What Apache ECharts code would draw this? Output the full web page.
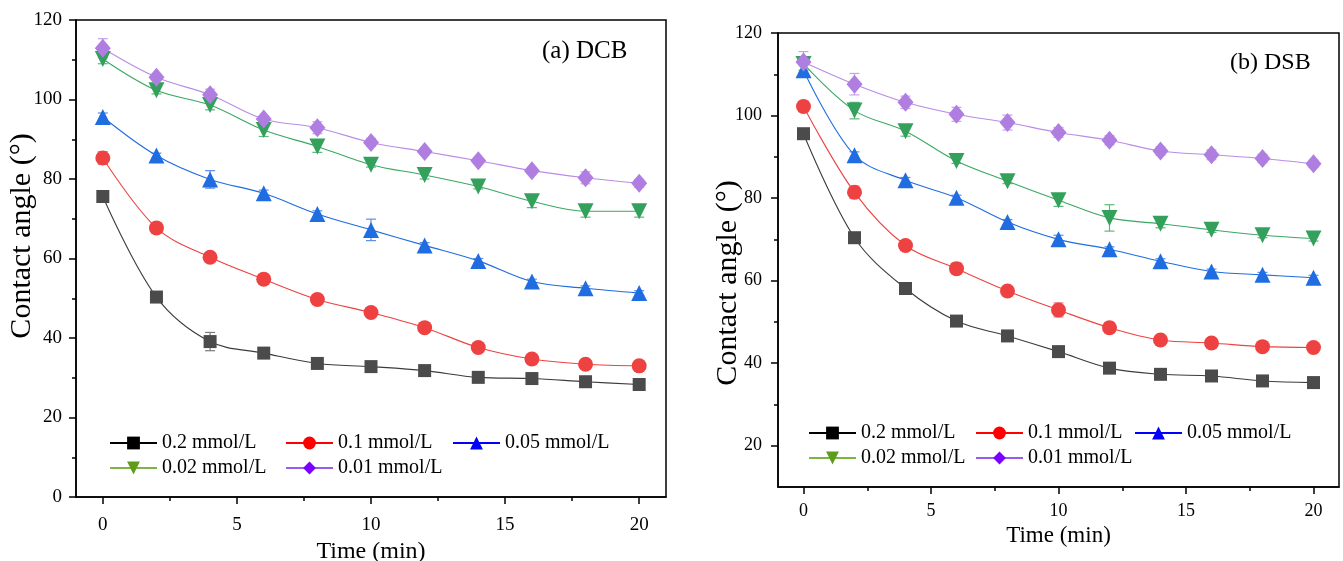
<!DOCTYPE html>
<html>
<head>
<meta charset="utf-8">
<script src="https://cdn.jsdelivr.net/npm/echarts@6/dist/echarts.min.js"></script>
<style>
  html, body { margin: 0; padding: 0; background: #fff; }
  #contact-angle { width: 1343px; height: 561px; }
</style>
</head>
<body>
<div id="contact-angle"></div>
<script>
// sampling times (min)
var times = [0, 2, 4, 6, 8, 10, 12, 14, 16, 18, 20];
var concs = ['0.2 mmol/L', '0.1 mmol/L', '0.05 mmol/L', '0.02 mmol/L', '0.01 mmol/L'];

// (a) DCB contact angle
var dcb02 = [75.6, 50.3, 39.1, 36.2, 33.6, 32.8, 31.8, 30.1, 29.8, 29.0, 28.3];
var dcb01 = [85.3, 67.7, 60.3, 54.8, 49.7, 46.4, 42.6, 37.6, 34.7, 33.4, 33.0];
var dcb005 = [95.6, 85.9, 79.9, 76.4, 71.2, 67.2, 63.3, 59.4, 54.2, 52.5, 51.3];
var dcb002 = [110.2, 102.3, 98.6, 92.3, 88.2, 83.6, 81.0, 78.1, 74.4, 71.9, 71.9];
var dcb001 = [112.9, 105.6, 101.2, 95.1, 92.9, 89.2, 86.9, 84.6, 82.1, 80.3, 78.9];
// error bars (+/-)
var dcbErr02 = [1.0, 1.3, 2.3, 0.6, 0.6, 0.5, 0.6, 0.5, 0.5, 0.6, 0.6];
var dcbErr01 = [1.6, 1.3, 0.7, 0.5, 0.5, 0.6, 0.6, 0.5, 0.5, 0.5, 0.5];
var dcbErr005 = [1.0, 0.6, 2.2, 0.8, 0.8, 2.7, 0.7, 0.6, 0.6, 0.6, 0.6];
var dcbErr002 = [1.2, 0.9, 1.2, 1.6, 1.5, 0.6, 1.0, 0.6, 1.6, 1.5, 1.5];
var dcbErr001 = [2.4, 0.8, 1.4, 0.8, 1.5, 1.0, 0.7, 0.6, 0.8, 1.5, 1.0];

// (b) DSB contact angle
var dsb02 = [95.6, 70.4, 58.1, 50.2, 46.6, 42.8, 38.8, 37.3, 36.9, 35.7, 35.3];
var dsb01 = [102.2, 81.4, 68.5, 62.9, 57.5, 52.9, 48.6, 45.6, 44.9, 44.0, 43.8];
var dsb005 = [111.0, 90.4, 84.3, 80.1, 74.2, 70.0, 67.6, 64.7, 62.2, 61.4, 60.7];
var dsb002 = [112.5, 101.2, 96.2, 89.0, 84.1, 79.5, 75.2, 73.8, 72.3, 71.0, 70.2];
var dsb001 = [113.0, 107.6, 103.2, 100.3, 98.3, 95.9, 94.0, 91.4, 90.5, 89.6, 88.3];
var dsbErr02 = [0.6, 0.6, 0.6, 0.6, 0.6, 0.6, 0.6, 0.6, 0.6, 0.6, 0.6];
var dsbErr01 = [1.3, 1.5, 0.7, 1.4, 0.7, 1.7, 1.3, 0.6, 0.7, 0.6, 0.6];
var dsbErr005 = [1.6, 0.8, 0.7, 0.6, 0.6, 1.0, 0.6, 0.6, 0.6, 0.6, 0.6];
var dsbErr002 = [1.5, 2.0, 1.2, 0.6, 0.6, 1.5, 3.2, 1.0, 0.6, 0.6, 0.6];
var dsbErr001 = [2.5, 2.6, 1.5, 1.7, 1.8, 1.2, 1.1, 1.0, 1.2, 1.0, 0.9];

// tick labels
var xTicks = [0, 5, 10, 15, 20];
var xMinor = [2.5, 7.5, 12.5, 17.5];
var yTicksA = [0, 20, 40, 60, 80, 100, 120];
var yMinorA = [10, 30, 50, 70, 90, 110];
var yTicksB = [20, 40, 60, 80, 100, 120];
var yMinorB = [30, 50, 70, 90, 110];

var font = 'Liberation Serif';
var symbols = ['rect', 'circle', 'triangle', 'triangle', 'diamond'];
var rotates = [0, 0, 0, 180, 0];
var sizes = [13, 15, 16, 16, [16, 19]];
var markColors = ['#4b4b4b', '#ee4242', '#1f6de0', '#33a05c', '#b07ee0'];
var lineColors = ['#3c3c3c', '#ee4242', '#1f6de0', '#3aa862', '#b98ce6'];
var errColors = ['#7a7a7a', '#f07a7a', '#5a90e8', '#5cb87a', '#c6a2ec'];
var legendColors = ['#000000', '#ff0000', '#0000ff', '#5e9c1a', '#7a00ff'];
var legendLineColors = ['#000000', '#ff0000', '#0000ff', '#7db443', '#9a5cf0'];

var chartDom = document.getElementById('contact-angle');
var myChart = echarts.init(chartDom);
var option;

function errorBar(params, api) {
  var x = api.value(0);
  var hi = api.coord([x, api.value(2)]);
  var lo = api.coord([x, api.value(1)]);
  var c = api.visual('color');
  var w = 5;
  var st = { stroke: c, lineWidth: 1.2 };
  return {
    type: 'group',
    children: [
      { type: 'line', shape: { x1: hi[0], y1: hi[1], x2: lo[0], y2: lo[1] }, style: st },
      { type: 'line', shape: { x1: hi[0] - w, y1: hi[1], x2: hi[0] + w, y2: hi[1] }, style: st },
      { type: 'line', shape: { x1: lo[0] - w, y1: lo[1], x2: lo[0] + w, y2: lo[1] }, style: st }
    ]
  };
}

function mainX(grid, labelSize, margin, nameGap, nameSize) {
  return {
    type: 'value', gridIndex: grid, min: -1, max: 21, position: 'bottom',
    name: 'Time (min)', nameLocation: 'middle', nameGap: nameGap,
    nameTextStyle: { fontFamily: font, fontSize: nameSize, color: '#000' },
    axisLine: { onZero: false, lineStyle: { color: '#000', width: 1.5 } },
    axisTick: { customValues: xTicks, length: 7, lineStyle: { width: 1.5, color: '#000' } },
    axisLabel: { customValues: xTicks, margin: margin, fontFamily: font, fontSize: labelSize, color: '#000' },
    splitLine: { show: false }
  };
}

function minorAxis(grid, min, max, ticks, pos) {
  return {
    type: 'value', gridIndex: grid, min: min, max: max, position: pos,
    axisLine: { show: false, onZero: false },
    axisTick: { customValues: ticks, length: 4, lineStyle: { width: 1.5, color: '#000' } },
    axisLabel: { show: false },
    splitLine: { show: false }
  };
}

function mainY(grid, min, max, ticks, labelSize, margin) {
  return {
    type: 'value', gridIndex: grid, min: min, max: max, position: 'left',
    axisLine: { show: true, onZero: false, lineStyle: { color: '#000', width: 1.5 } },
    axisTick: { show: true, customValues: ticks, length: 7, lineStyle: { width: 1.5, color: '#000' } },
    axisLabel: { customValues: ticks, margin: margin, fontFamily: font, fontSize: labelSize, color: '#000' },
    splitLine: { show: false }
  };
}

var panels = [
  { axis: 0, tag: 'DCB', vals: [dcb02, dcb01, dcb005, dcb002, dcb001], errs: [dcbErr02, dcbErr01, dcbErr005, dcbErr002, dcbErr001] },
  { axis: 2, tag: 'DSB', vals: [dsb02, dsb01, dsb005, dsb002, dsb001], errs: [dsbErr02, dsbErr01, dsbErr005, dsbErr002, dsbErr001] }
];

var series = [];
panels.forEach(function (p) {
  p.vals.forEach(function (v, i) {
    var errData = times.map(function (t, k) {
      return [t, v[k] - p.errs[i][k], v[k] + p.errs[i][k]];
    });
    series.push({
      name: p.tag + ' err ' + concs[i], type: 'custom', renderItem: errorBar,
      xAxisIndex: p.axis, yAxisIndex: p.axis,
      itemStyle: { color: errColors[i] }, data: errData, z: 2, silent: true
    });
    series.push({
      name: p.tag + ' ' + concs[i], type: 'line', smooth: 0.35,
      xAxisIndex: p.axis, yAxisIndex: p.axis,
      symbol: symbols[i], symbolRotate: rotates[i], symbolSize: sizes[i],
      itemStyle: { color: markColors[i] },
      lineStyle: { color: lineColors[i], width: 1.1 },
      data: times.map(function (t, k) { return [t, v[k]]; }),
      z: 3
    });
  });
});
// legend-only series (no data)
concs.forEach(function (c, i) {
  series.push({
    name: c, type: 'line', data: [], xAxisIndex: 0, yAxisIndex: 0,
    symbol: symbols[i], symbolRotate: rotates[i],
    itemStyle: { color: legendColors[i] },
    lineStyle: { color: legendLineColors[i], width: 1.2 }
  });
});

var legendPosA = [[109, 433], [285, 433], [452, 433], [109, 458], [285, 458]];
var legendPosB = [[808, 423], [975, 423], [1134, 423], [808, 448], [975, 448]];
var legends = [];
[legendPosA, legendPosB].forEach(function (pos) {
  concs.forEach(function (c, i) {
    legends.push({
      data: [c], left: pos[i][0], top: pos[i][1], padding: 0,
      itemWidth: 47, itemHeight: 16, selectedMode: false,
      textStyle: { fontFamily: font, fontSize: 20, color: '#000' }
    });
  });
});

option = {
  backgroundColor: '#fff',
  animation: false,
  title: [
    { text: '(a) DCB', left: 542, top: 39, padding: 0, textStyle: { fontFamily: font, fontSize: 25, fontWeight: 'normal', color: '#000' } },
    { text: '(b) DSB', left: 1230, top: 51, padding: 0, textStyle: { fontFamily: font, fontSize: 24, fontWeight: 'normal', color: '#000' } }
  ],
  graphic: [
    { type: 'text', x: 22, y: 236, rotation: Math.PI / 2,
      style: { text: 'Contact angle (°)', font: '30px "Liberation Serif"', fill: '#000', align: 'center', verticalAlign: 'middle' } },
    { type: 'text', x: 728, y: 283, rotation: Math.PI / 2,
      style: { text: 'Contact angle (°)', font: '30px "Liberation Serif"', fill: '#000', align: 'center', verticalAlign: 'middle' } }
  ],
  legend: legends,
  grid: [
    { left: 76, top: 20, width: 590, height: 477, outerBoundsMode: 'none', show: true, borderColor: '#000', borderWidth: 1.5 },
    { left: 778, top: 33, width: 561, height: 454, outerBoundsMode: 'none', show: true, borderColor: '#000', borderWidth: 1.5 }
  ],
  xAxis: [
    mainX(0, 19, 19, 36, 24),
    minorAxis(0, -1, 21, xMinor, 'bottom'),
    mainX(1, 18, 15, 33, 23),
    minorAxis(1, -1, 21, xMinor, 'bottom')
  ],
  yAxis: [
    mainY(0, 0, 120, yTicksA, 19, 14),
    minorAxis(0, 0, 120, yMinorA, 'left'),
    mainY(1, 10, 120, yTicksB, 18, 16),
    minorAxis(1, 10, 120, yMinorB, 'left')
  ],
  series: series
};

option && myChart.setOption(option);
</script>
</body>
</html>
